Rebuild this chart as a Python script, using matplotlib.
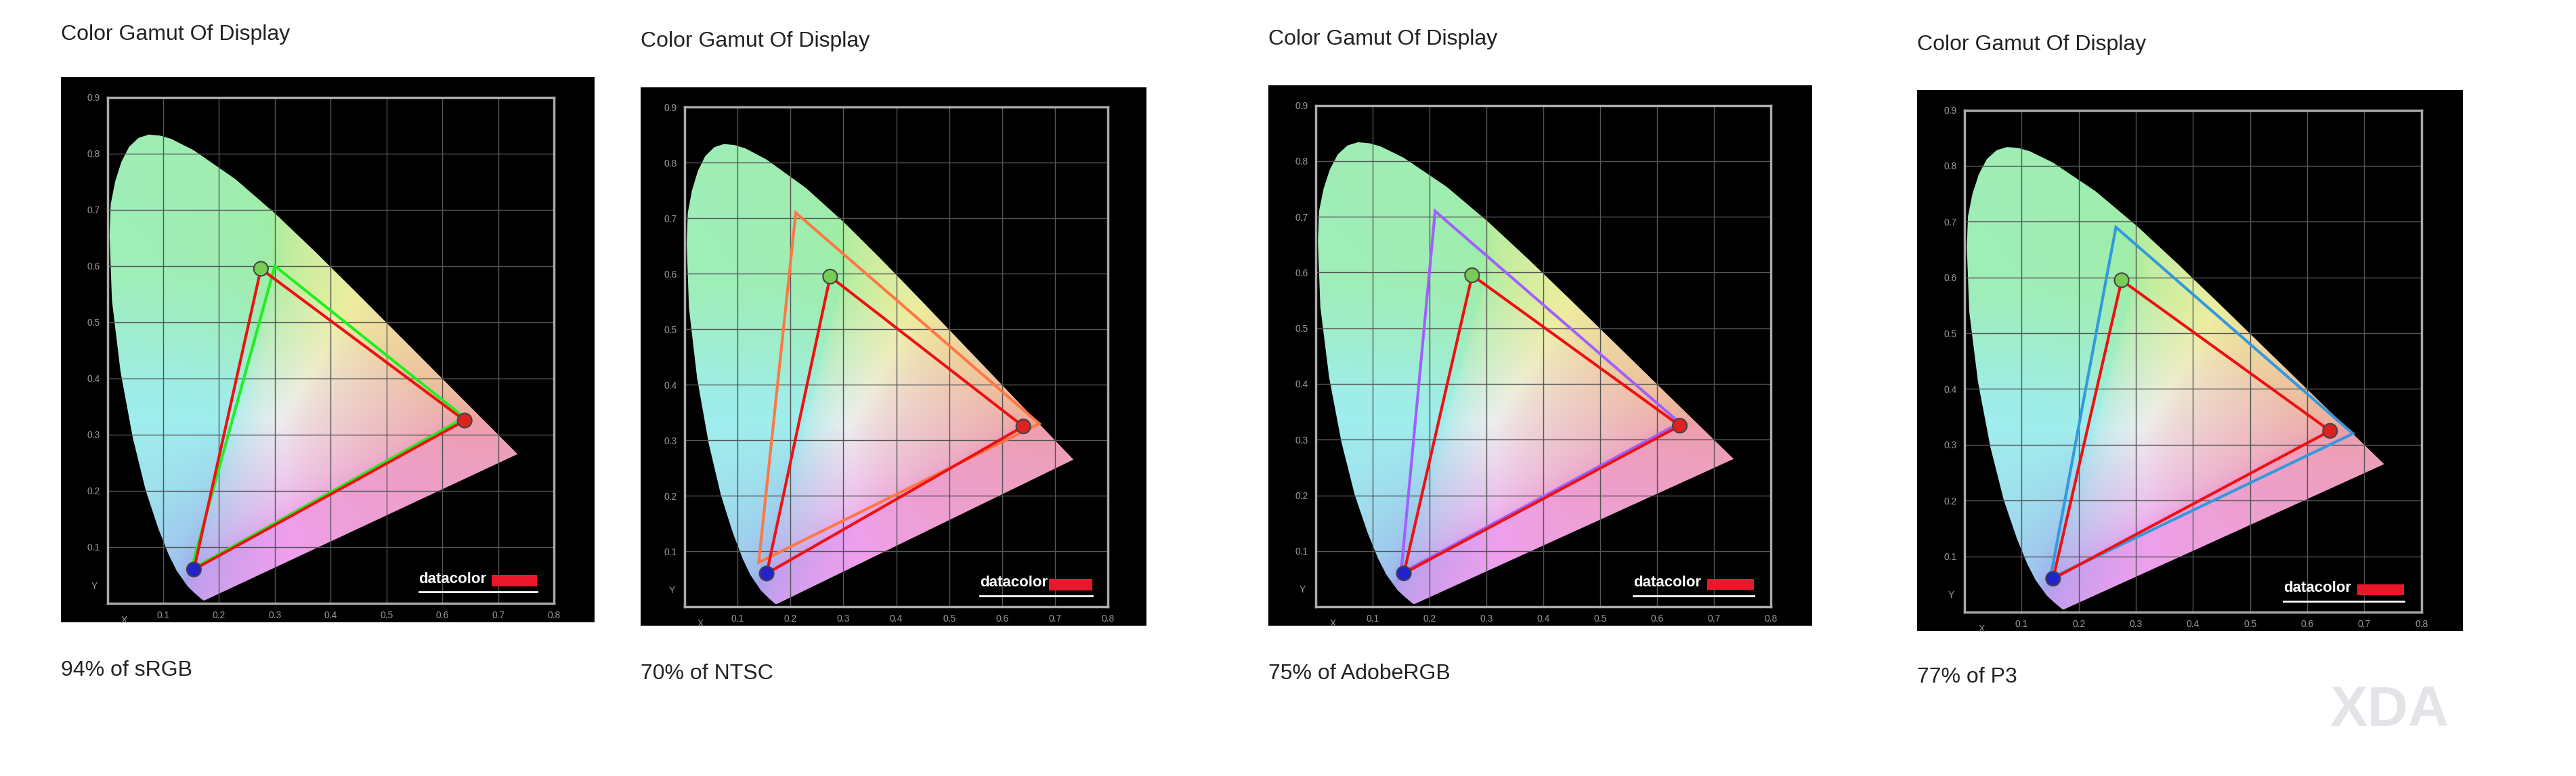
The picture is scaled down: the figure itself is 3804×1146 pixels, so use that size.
import numpy as np
import matplotlib
matplotlib.use("Agg")
import matplotlib.pyplot as plt
from matplotlib.patches import Polygon

plt.rcParams['font.family'] = ['Liberation Sans', 'DejaVu Sans']

titles = ["Color Gamut Of Display"] * 4
captions = ["94% of sRGB", "70% of NTSC", "75% of AdobeRGB", "77% of P3"]
measured_x = [0.64, 0.275, 0.155]
measured_y = [0.325, 0.595, 0.060]
ref_x = [[0.64, 0.30, 0.15], [0.67, 0.21, 0.14], [0.64, 0.21, 0.15], [0.68, 0.265, 0.15]]
ref_y = [[0.33, 0.60, 0.06], [0.33, 0.71, 0.08], [0.33, 0.71, 0.06], [0.32, 0.69, 0.06]]
ref_colors = ["#22ee22", "#ff7744", "#a060ff", "#3399dd"]
locus_x = [0.1741, 0.1714, 0.1644, 0.1566, 0.1440, 0.1241, 0.1096, 0.0913, 0.0687, 0.0454,
           0.0235, 0.0082, 0.0039, 0.0060, 0.0139, 0.0250, 0.0389, 0.0560, 0.0743, 0.0940,
           0.1142, 0.1547, 0.2296, 0.3016, 0.3731, 0.4441, 0.5125, 0.5752, 0.6270, 0.6915,
           0.7190, 0.7347]
locus_y = [0.0050, 0.0051, 0.0109, 0.0177, 0.0297, 0.0578, 0.0868, 0.1327, 0.2007, 0.2950,
           0.4127, 0.5384, 0.6548, 0.7100, 0.7502, 0.7850, 0.8120, 0.8280, 0.8338, 0.8320,
           0.8262, 0.8059, 0.7543, 0.6923, 0.6245, 0.5547, 0.4866, 0.4242, 0.3725, 0.3083,
           0.2809, 0.2653]
xticks = [0.1, 0.2, 0.3, 0.4, 0.5, 0.6, 0.7, 0.8]
yticks = [0.1, 0.2, 0.3, 0.4, 0.5, 0.6, 0.7, 0.8, 0.9]

W, H = 3804, 1146
boxes = [(90, 114, 878, 919), (946, 129, 1693, 924), (1873, 126, 2676, 924), (2831, 133, 3637, 932)]
title_y = [51, 61, 58, 66]
cap_y = [990, 995, 995, 1000]

gx, gy = np.meshgrid(np.linspace(0, 0.8, 400), np.linspace(0, 0.9, 450))
gy2 = np.maximum(gy, 1e-3)
X = gx / gy2; Y = np.ones_like(gx); Z = (1 - gx - gy) / gy2
r = 3.2406*X - 1.5372*Y - 0.4986*Z
g = -0.9689*X + 1.8758*Y + 0.0415*Z
b = 0.0557*X - 0.2040*Y + 1.0570*Z
rgb = np.stack([r, g, b], -1)
rgb = rgb - np.minimum(rgb.min(-1, keepdims=True), 0)
rgb = rgb / np.maximum(rgb.max(-1, keepdims=True), 1e-6)
rgb = rgb ** (1/2.2)
# push upper region toward green as in the reference
wgreen = np.clip((gy - 0.38) / 0.2, 0, 1)
rgb[..., 2] = rgb[..., 2] * (1 - 0.6 * wgreen * rgb[..., 1])
rgb = np.clip((0.32*rgb + 0.66) * 0.95, 0, 1)

fig = plt.figure(figsize=(W/100, H/100), dpi=100)
for i, (x0, y0, x1, y1) in enumerate(boxes):
    fig.text(x0/W, 1 - title_y[i]/H, titles[i], fontsize=23, va='center', ha='left', color='#222222')
    fig.text(x0/W, 1 - cap_y[i]/H, captions[i], fontsize=23, va='center', ha='left', color='#222222')
    bw, bh = x1 - x0, y1 - y0
    bg = fig.add_axes([x0/W, 1 - y1/H, bw/W, bh/H]); bg.set_facecolor('black')
    bg.set_xticks([]); bg.set_yticks([])
    for s in bg.spines.values(): s.set_visible(False)
    px0 = x0 + 0.087*bw; px1 = x1 - 0.076*bw
    py0 = y0 + 0.037*bh; py1 = y1 - 0.035*bh
    ax = fig.add_axes([px0/W, 1 - py1/H, (px1-px0)/W, (py1-py0)/H])
    ax.set_facecolor('black')
    ax.set_xlim(0, 0.8); ax.set_ylim(0, 0.9)
    for s in ax.spines.values(): s.set_color('#aaaaaa'); s.set_linewidth(2.5)
    ax.set_xticks(xticks); ax.set_yticks(yticks)
    ax.grid(color='#555555', lw=1)
    ax.tick_params(colors='#999999', labelsize=10, length=0, pad=8)
    ax.set_xticklabels([f"{t:.1f}" for t in xticks]); ax.set_yticklabels([f"{t:.1f}" for t in yticks])
    ax.text(0.03, -0.022, "X", color='#999999', fontsize=10, ha='center', va='top')
    ax.text(-0.018, 0.03, "Y", color='#999999', fontsize=10, ha='right', va='center')
    poly = Polygon(np.column_stack([locus_x, locus_y]), closed=True, transform=ax.transData, fc='none', ec='none')
    ax.add_patch(poly)
    im = ax.imshow(rgb, extent=[0, 0.8, 0, 0.9], origin='lower', aspect='auto', zorder=1, interpolation='bilinear')
    im.set_clip_path(poly)
    ax.fill(ref_x[i], ref_y[i], fc='none', ec=ref_colors[i], lw=3, zorder=3)
    ax.fill(measured_x, measured_y, fc='none', ec='#ee1111', lw=3, zorder=4)
    ax.scatter(measured_x, measured_y, s=230, c=['#dd2222', '#77cc55', '#2222cc'], edgecolors='#444444', lw=1.5, zorder=5)
    ax.text(0.558, 0.043, "datacolor", color='white', fontsize=16, fontweight='bold', ha='left', va='center', zorder=6)
    ax.fill([0.688, 0.77, 0.77, 0.688], [0.030, 0.030, 0.05, 0.05], color='#e8182a', zorder=6, lw=0)
    ax.plot([0.558, 0.77], [0.020, 0.020], color='white', lw=2, zorder=6)

fig.text(3440/W, 1 - 1050/H, "XDA", fontsize=60, fontweight='bold', color='#e4e4e8', ha='left', va='center')
fig.savefig("out.png", dpi=100, facecolor='white')
